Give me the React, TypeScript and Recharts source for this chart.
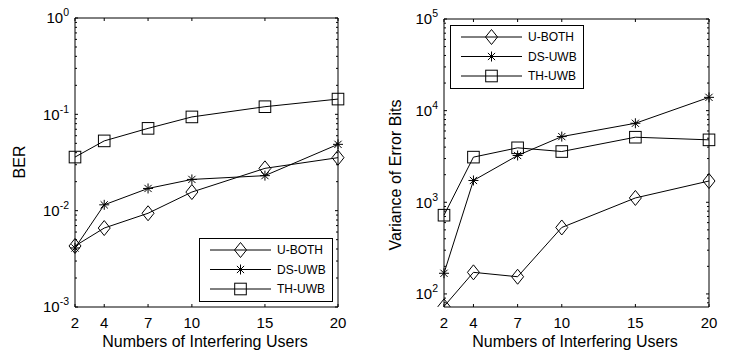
import React from 'react';
import { LineChart, Line, XAxis, YAxis, Legend, Label } from 'recharts';

const users = [2, 4, 7, 10, 15, 20];

// BER (left plot)
const berUBoth = [0.0043, 0.0066, 0.0094, 0.0156, 0.0275, 0.0355];
const berDsUwb = [0.0041, 0.0115, 0.017, 0.0211, 0.0231, 0.0488];
const berThUwb = [0.036, 0.053, 0.0715, 0.094, 0.12, 0.144];

// Variance of error bits (right plot)
const varUBoth = [73, 172, 154, 531, 1115, 1707];
const varDsUwb = [168, 1730, 3240, 5210, 7280, 13960];
const varThUwb = [723, 3110, 3930, 3580, 5130, 4800];

const seriesNames = ['U-BOTH', 'DS-UWB', 'TH-UWB'];
const seriesMarkers = ['diamond', 'star', 'square'];

const berTicks = [0.001, 0.002, 0.003, 0.004, 0.005, 0.006, 0.007, 0.008, 0.009,
  0.01, 0.02, 0.03, 0.04, 0.05, 0.06, 0.07, 0.08, 0.09,
  0.1, 0.2, 0.3, 0.4, 0.5, 0.6, 0.7, 0.8, 0.9, 1];
const varTicks = [80, 90, 100, 200, 300, 400, 500, 600, 700, 800, 900,
  1000, 2000, 3000, 4000, 5000, 6000, 7000, 8000, 9000,
  10000, 20000, 30000, 40000, 50000, 60000, 70000, 80000, 90000, 100000];

const FONT = '"Liberation Sans", Arial, Helvetica, sans-serif';
const W = 374;
const H = 356;

const isPow10 = (v: number) => {
  const l = Math.log10(v);
  return Math.abs(l - Math.round(l)) < 1e-9;
};

const Marker = ({ kind, cx, cy }: { kind: string; cx: number; cy: number }) => {
  if (kind === 'diamond') {
    const pts = `${cx},${cy - 7.5} ${cx + 6},${cy} ${cx},${cy + 7.5} ${cx - 6},${cy}`;
    return <polygon points={pts} fill="none" stroke="#000" strokeWidth={1} />;
  }
  if (kind === 'square') {
    return <rect x={cx - 5.8} y={cy - 5.8} width={11.6} height={11.6} fill="none" stroke="#000" strokeWidth={1} />;
  }
  const r = 5;
  const d = r * 0.72;
  return (
    <g stroke="#000" strokeWidth={1}>
      <line x1={cx} y1={cy - r} x2={cx} y2={cy + r} />
      <line x1={cx - r} y1={cy} x2={cx + r} y2={cy} />
      <line x1={cx - d} y1={cy - d} x2={cx + d} y2={cy + d} />
      <line x1={cx - d} y1={cy + d} x2={cx + d} y2={cy - d} />
    </g>
  );
};

const makeDot = (kind: string) => (p: any) => (
  <Marker key={`${kind}-${p.index}`} kind={kind} cx={p.cx} cy={p.cy} />
);

const YTickLeft = (props: any) => {
  const { x, y, payload } = props;
  const v = payload.value;
  const major = isPow10(v);
  const exp = Math.round(Math.log10(v));
  return (
    <g>
      <line x1={x} x2={x + (major ? 3 : 2)} y1={y} y2={y} stroke="#000" />
      {major && (
        <text x={x - 6} y={y + 5.4} textAnchor="end" fontFamily={FONT} fontSize={15} fill="#000">
          10<tspan dy={-7} fontSize={10.5}>{exp}</tspan>
        </text>
      )}
    </g>
  );
};

const YTickRight = (props: any) => {
  const { x, y, payload } = props;
  const major = isPow10(payload.value);
  return <line x1={x} x2={x - (major ? 3 : 2)} y1={y} y2={y} stroke="#000" />;
};

const XTickBottom = (props: any) => {
  const { x, y, payload } = props;
  return (
    <g>
      <line x1={x} x2={x} y1={y} y2={y - 3} stroke="#000" />
      <text x={x} y={y + 20.5} textAnchor="middle" fontFamily={FONT} fontSize={15} fill="#000">
        {payload.value}
      </text>
    </g>
  );
};

const XTickTop = (props: any) => {
  const { x, y } = props;
  return <line x1={x} x2={x} y1={y} y2={y + 3} stroke="#000" />;
};

const LegendBox = () => (
  <svg width={134} height={64} style={{ display: 'block' }}>
    <rect x={0.5} y={0.5} width={133} height={63} fill="#fff" stroke="#000" strokeWidth={1} />
    {seriesNames.map((name, i) => {
      const cy = 12 + i * 19.5;
      return (
        <g key={name}>
          <line x1={11} x2={72} y1={cy} y2={cy} stroke="#000" strokeWidth={1} />
          <Marker kind={seriesMarkers[i]} cx={41.5} cy={cy} />
          <text x={78} y={cy + 4.3} fontFamily={FONT} fontSize={12} fill="#000">{name}</text>
        </g>
      );
    })}
  </svg>
);

type PanelProps = {
  rows: any[];
  domain: [number, number];
  ticks: number[];
  left: number;
  right: number;
  top: number;
  yTitle: string;
  yTitleX: number;
  yTitleY: number;
  legendPos: { left: number; top: number };
};

const Panel = ({ rows, domain, ticks, left, right, top, yTitle, yTitleX, yTitleY, legendPos }: PanelProps) => (
  <LineChart width={W} height={H} data={rows} margin={{ top: 0, right: 0, bottom: 0, left: 0 }}>
    <XAxis
      xAxisId="b"
      dataKey="users"
      type="number"
      domain={[2, 20]}
      ticks={users}
      interval={0}
      height={H - 307}
      tickSize={0}
      tickMargin={0}
      tickLine={false}
      axisLine={{ stroke: '#000' }}
      tick={<XTickBottom />}
    >
      <Label
        content={(p: any) => {
          const vb = p.viewBox;
          return (
            <text x={vb.x + vb.width / 2 - 1.5} y={vb.y + 40} textAnchor="middle" fontFamily={FONT} fontSize={16} fill="#000">
              Numbers of Interfering Users
            </text>
          );
        }}
      />
    </XAxis>
    <XAxis
      xAxisId="t"
      orientation="top"
      dataKey="users"
      type="number"
      domain={[2, 20]}
      ticks={users}
      interval={0}
      height={top}
      tickSize={0}
      tickMargin={0}
      tickLine={false}
      axisLine={{ stroke: '#000' }}
      tick={<XTickTop />}
    />
    <YAxis
      yAxisId="l"
      scale="log"
      type="number"
      domain={domain}
      allowDataOverflow
      ticks={ticks}
      interval={0}
      width={left}
      tickSize={0}
      tickMargin={0}
      tickLine={false}
      axisLine={{ stroke: '#000' }}
      tick={<YTickLeft />}
    >
      <Label
        content={() => (
          <text
            x={yTitleX}
            y={yTitleY}
            transform={`rotate(-90 ${yTitleX} ${yTitleY})`}
            textAnchor="middle"
            fontFamily={FONT}
            fontSize={16}
            fill="#000"
          >
            {yTitle}
          </text>
        )}
      />
    </YAxis>
    <YAxis
      yAxisId="r"
      orientation="right"
      scale="log"
      type="number"
      domain={domain}
      allowDataOverflow
      ticks={ticks}
      interval={0}
      width={right}
      tickSize={0}
      tickMargin={0}
      tickLine={false}
      axisLine={{ stroke: '#000' }}
      tick={<YTickRight />}
    />
    <Legend
      layout="vertical"
      align="center"
      verticalAlign="middle"
      wrapperStyle={{ position: 'absolute', left: legendPos.left, top: legendPos.top, width: 134, height: 64 }}
      content={() => <LegendBox />}
    />
    {['uBoth', 'dsUwb', 'thUwb'].map((key, i) => (
      <Line
        key={key}
        xAxisId="b"
        yAxisId="l"
        dataKey={key}
        name={seriesNames[i]}
        stroke="#000"
        strokeWidth={1}
        dot={makeDot(seriesMarkers[i])}
        activeDot={false}
        isAnimationActive={false}
      />
    ))}
  </LineChart>
);

const berRows = users.map((u, i) => ({ users: u, uBoth: berUBoth[i], dsUwb: berDsUwb[i], thUwb: berThUwb[i] }));
const varRows = users.map((u, i) => ({ users: u, uBoth: varUBoth[i], dsUwb: varDsUwb[i], thUwb: varThUwb[i] }));

export default function App() {
  return (
    <div style={{ position: 'absolute', left: 0, top: 0, width: 748, height: 356, background: '#fff', display: 'flex' }}>
      <Panel
        rows={berRows}
        domain={[0.001, 1]}
        ticks={berTicks}
        left={75}
        right={36}
        top={18}
        yTitle="BER"
        yTitleX={25}
        yTitleY={162}
        legendPos={{ left: 199, top: 238 }}
      />
      <Panel
        rows={varRows}
        domain={[72, 100000]}
        ticks={varTicks}
        left={70}
        right={39}
        top={19}
        yTitle="Variance of Error Bits"
        yTitleX={27}
        yTitleY={175}
        legendPos={{ left: 76, top: 25 }}
      />
    </div>
  );
}
